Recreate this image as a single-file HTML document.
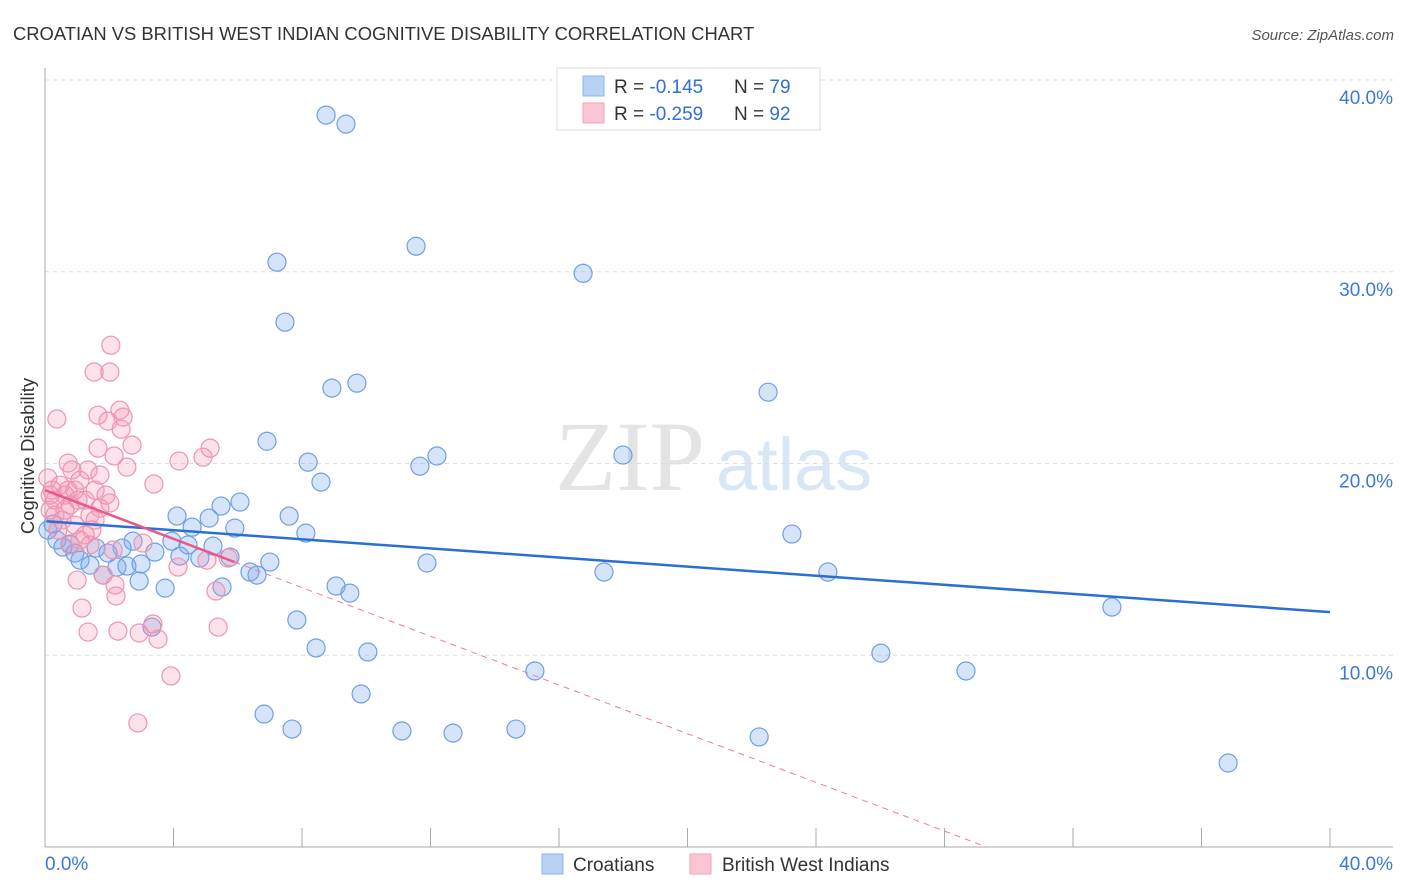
<!DOCTYPE html>
<html><head><meta charset="utf-8"><style>
body{margin:0;background:#fff;font-family:"Liberation Sans",sans-serif;}
svg{display:block}
</style></head><body>
<svg id="chart" width="1406" height="892">
<text x="13" y="40" font-size="18.4" fill="#333">CROATIAN VS BRITISH WEST INDIAN COGNITIVE DISABILITY CORRELATION CHART</text>
<text x="1394" y="40" font-size="15" fill="#555" text-anchor="end" font-style="italic">Source: ZipAtlas.com</text>
<text x="555" y="490" font-size="100" fill="#e4e4e4" font-family="Liberation Serif,serif">ZIP</text>
<text x="716" y="490" font-size="74" fill="#d8e6f6">atlas</text>
<g id="grid"></g>
<g id="axes"></g>
<g id="pts"></g>
<g id="lines"></g>
<text transform="translate(34,456) rotate(-90)" font-size="18.5" fill="#333" text-anchor="middle">Cognitive Disability</text>
<g>
<rect x="557" y="68" width="263" height="62" fill="#fff" stroke="#ddd"/>
<rect x="583" y="76" width="21" height="20" fill="#b8d2f4" stroke="#8db4ea"/>
<rect x="583" y="103" width="21" height="20" fill="#fbc5d4" stroke="#f0a3ba"/>
<text x="614" y="93" font-size="19" fill="#333">R = <tspan fill="#2f6fd6">-0.145</tspan><tspan x="734">N = </tspan><tspan fill="#2f6fd6">79</tspan></text>
<text x="614" y="120" font-size="19" fill="#333">R = <tspan fill="#2f6fd6">-0.259</tspan><tspan x="734">N = </tspan><tspan fill="#2f6fd6">92</tspan></text>
</g>
<g>
<rect x="542" y="854" width="21" height="20" fill="#b8d2f4" stroke="#8db4ea"/>
<text x="573" y="871" font-size="19" fill="#333">Croatians</text>
<rect x="690" y="854" width="21" height="20" fill="#fbc5d4" stroke="#f0a3ba"/>
<text x="722" y="871" font-size="19" fill="#333">British West Indians</text>
</g>
</svg>
<script>
const blueX=[8.75,9.37,11.55,7.22,16.75,7.47,8.93,9.71,22.51,6.91,8.19,11.67,12.20,17.99,8.59,6.07,5.48,5.11,4.11,4.58,7.60,8.12,5.91,23.25,2.74,3.95,4.45,5.23,3.42,2.40,1.96,1.59,0.78,0.37,0.56,0.93,1.09,1.40,1.81,2.24,2.55,2.99,2.93,3.74,4.20,4.82,5.51,5.76,6.38,6.60,7.00,9.06,9.49,17.40,24.37,7.84,3.33,8.44,10.05,33.21,26.02,28.67,15.25,9.84,6.82,7.69,11.11,12.70,14.66,22.23,36.83,11.89,0.25,0.09];
const blueY=[38.17,37.70,31.33,30.50,29.92,27.37,23.93,24.19,23.72,21.16,20.07,19.86,20.39,20.44,19.03,17.99,17.78,17.15,17.26,16.68,17.26,16.37,16.63,16.32,15.95,15.95,15.75,15.69,15.38,15.59,15.33,15.59,15.80,16.01,15.64,15.33,14.96,14.70,14.18,14.60,14.65,14.76,13.87,13.50,15.17,15.07,13.56,15.12,14.34,14.18,14.86,13.61,13.24,14.34,14.34,11.84,11.47,10.38,10.17,12.51,10.11,9.18,9.18,7.98,6.93,6.15,6.05,5.94,6.15,5.74,4.38,14.81,16.84,16.53];
const pinkX=[2.05,1.53,2.02,0.37,1.65,2.33,2.43,1.96,2.37,1.65,2.71,2.15,2.55,4.17,5.14,4.92,3.39,0.72,2.02,0.09,0.22,0.31,0.16,0.47,0.62,0.78,0.84,0.93,1.09,1.25,1.40,1.56,1.71,1.90,1.34,0.53,0.40,0.93,1.46,1.09,1.25,0.78,0.16,0.31,0.62,1.71,1.03,0.72,1.56,1.00,1.15,1.34,2.27,2.93,3.52,3.36,5.39,3.92,2.89,4.14,5.32,2.21,2.18,3.05,2.12,5.70,1.81,5.04,1.40];
const pinkY=[26.17,24.77,24.77,22.32,22.52,22.78,22.42,22.21,21.79,20.80,20.96,20.39,19.81,20.13,20.80,20.33,18.93,20.02,17.94,19.24,18.61,18.09,17.57,18.87,18.35,17.83,19.66,18.61,19.13,18.09,17.31,18.61,17.67,18.35,19.66,17.05,16.53,16.79,16.53,16.01,16.27,15.75,18.35,17.31,17.57,19.40,18.09,18.61,17.05,13.92,12.46,11.21,11.26,11.16,10.84,11.63,11.47,8.92,6.47,14.60,13.35,13.09,13.66,15.85,15.49,15.07,14.18,14.96,15.75];
const yTicks=[10,20,30,40];
const xTickCount=10;
const blueFit=[16.99,12.25];
const pinkFit=[18.61,-0.635];
const pinkSolidEnd=5.9;
const NS='http://www.w3.org/2000/svg';
const X0=45,X1=1330,Y0=847,Y40=80;
const sx=v=>X0+(X1-X0)*v/40, sy=v=>Y0-(Y0-Y40)*v/40;
function mk(t,a,p){const e=document.createElementNS(NS,t);for(const k in a)e.setAttribute(k,a[k]);p.appendChild(e);return e;}
const grid=document.getElementById('grid'),axes=document.getElementById('axes');
yTicks.forEach(v=>{
 const l=mk('line',{x1:X0,x2:1393,y1:sy(v),y2:sy(v),stroke:'#ddd','stroke-dasharray':'4,4'},grid);
 
 
 const t=mk('text',{x:1393,y:sy(v)+24,'font-size':19,fill:'#3a78d6','text-anchor':'end'},axes);
 t.textContent=v.toFixed(1)+'%';
 
 
});
const ax=mk('line',{x1:X0,x2:X0,y1:68,y2:Y0,stroke:'#aaa'},axes);


const bx=mk('line',{x1:X0,x2:1393,y1:Y0,y2:Y0,stroke:'#aaa'},axes);


for(let i=1;i<=xTickCount;i++){const v=40*i/xTickCount;
 const tk=mk('line',{x1:sx(v),x2:sx(v),y1:Y0-19,y2:Y0,stroke:'#aaa'},axes);
 
 }
const t0=mk('text',{x:45,y:870,'font-size':19,fill:'#3a78d6'},axes);t0.textContent='0.0%';


const t1=mk('text',{x:1393,y:870,'font-size':19,fill:'#3a78d6','text-anchor':'end'},axes);t1.textContent='40.0%';


const pts=document.getElementById('pts');
blueX.forEach((x,i)=>{const c=mk('circle',{cx:sx(x),cy:sy(blueY[i]),r:9,fill:'rgba(120,165,235,0.3)',stroke:'#6f9fe3','stroke-width':1.2},pts);
 
 });
pinkX.forEach((x,i)=>{const c=mk('circle',{cx:sx(x),cy:sy(pinkY[i]),r:9,fill:'rgba(245,150,180,0.28)',stroke:'#ef93b0','stroke-width':1.2},pts);
 
 });
const lines=document.getElementById('lines');
const bl=mk('line',{x1:sx(0.05),y1:sy(blueFit[0]),x2:sx(40),y2:sy(blueFit[1]),stroke:'#2a6fd6','stroke-width':2.5},lines);


const pe=v=>pinkFit[0]+pinkFit[1]*v;
const xz=-pinkFit[0]/pinkFit[1];
const pd=mk('line',{x1:sx(pinkSolidEnd),y1:sy(pe(pinkSolidEnd)),x2:sx(xz),y2:sy(0),stroke:'#ec7b9f','stroke-width':1,'stroke-dasharray':'6,5'},lines);


const ps=mk('line',{x1:sx(0),y1:sy(pe(0)),x2:sx(pinkSolidEnd),y2:sy(pe(pinkSolidEnd)),stroke:'#e9588a','stroke-width':2.5},lines);


</script>
</body></html>
